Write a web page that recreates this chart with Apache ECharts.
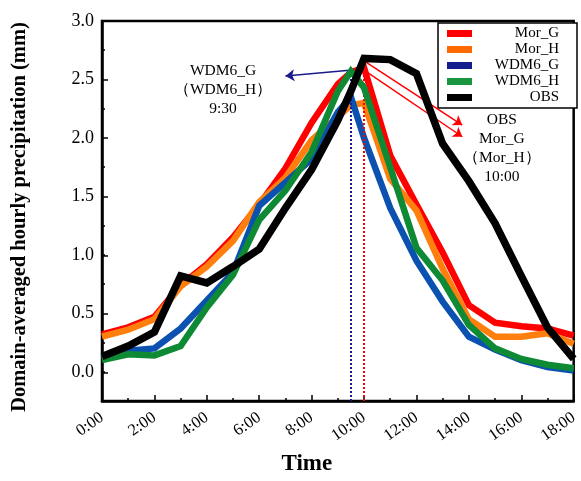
<!DOCTYPE html>
<html>
<head>
<meta charset="utf-8">
<script src="https://cdn.jsdelivr.net/npm/echarts@6/dist/echarts.min.js"></script>
<style>html,body{margin:0;padding:0;background:#fff;}#chart{width:581px;height:481px;}</style>
</head>
<body>
<div id="chart"></div>
<script>
// ---- data (hours, mm) ----
var times = [0, 1, 2, 3, 4, 5, 6, 7, 8, 9, 9.5, 10, 11, 12, 13, 14, 15, 16, 17, 18];
var seriesNames = ['Mor_G', 'Mor_H', 'WDM6_G', 'WDM6_H', 'OBS'];
var morG  = [0.32, 0.38, 0.47, 0.74, 0.92, 1.15, 1.43, 1.74, 2.13, 2.46, 2.56, 2.60, 1.85, 1.43, 1.02, 0.57, 0.42, 0.39, 0.37, 0.31];
var morH  = [0.30, 0.36, 0.45, 0.73, 0.90, 1.12, 1.45, 1.66, 1.98, 2.18, 2.28, 2.30, 1.65, 1.38, 0.88, 0.45, 0.30, 0.30, 0.33, 0.24];
var wdm6G = [0.12, 0.18, 0.20, 0.37, 0.61, 0.85, 1.42, 1.62, 1.82, 2.22, 2.35, 2.00, 1.40, 0.95, 0.60, 0.30, 0.19, 0.10, 0.04, 0.01];
var wdm6H = [0.10, 0.15, 0.14, 0.22, 0.55, 0.83, 1.30, 1.55, 1.88, 2.40, 2.57, 2.43, 1.75, 1.06, 0.78, 0.40, 0.20, 0.11, 0.06, 0.03];
var obs   = [0.13, 0.22, 0.34, 0.82, 0.76, 0.90, 1.05, 1.40, 1.73, 2.15, 2.40, 2.68, 2.67, 2.55, 1.95, 1.63, 1.27, 0.82, 0.38, 0.11];
var xTickHours = [0, 2, 4, 6, 8, 10, 12, 14, 16, 18];

// annotation anchors (data units)
var peakWdm = [9.5, 2.57];
var peakMor = [10, 2.60];
var blueArrow = [[9.55, 2.58], [7.0, 2.53]];
var redArrows = [[[10.0, 2.66], [13.75, 2.11]], [[10.0, 2.58], [13.75, 2.01]]];
var textWdm = {pos: [4.62, 2.41], lines: ['WDM6_G', '（WDM6_H）', '9:30']};
var textObs = {pos: [15.26, 1.91], lines: ['OBS', 'Mor_G', '（Mor_H）', '10:00']};
// ---------------------------

var lineColors = ['#ff0000', '#ff7f0e', '#0b52b0', '#0e8a34', '#000000'];
var legendColors = ['#ff0000', '#ff6a00', '#141e8c', '#1a9641', '#000000'];
var lineWidths = [6.5, 6.5, 6.5, 6.5, 7.5];
var vals = [morG, morH, wdm6G, wdm6H, obs];
var SERIF = '"Liberation Serif", "Times New Roman", serif';
var NAVY = '#1a1a8c';

function pairs(arr) { return times.map(function (t, i) { return [t, arr[i]]; }); }

var series = seriesNames.map(function (n, i) {
  return {
    name: n, type: 'line', xAxisIndex: 0, yAxisIndex: 0,
    data: pairs(vals[i]), showSymbol: false, symbol: 'none',
    lineStyle: {color: lineColors[i], width: lineWidths[i], join: 'miter'},
    itemStyle: {color: legendColors[i]},
    z: 2 + i, animation: false
  };
});

// annotations: dotted lines
series.push({
  name: 'annot1', type: 'line', data: [], xAxisIndex: 0, yAxisIndex: 0, z: 20, animation: false,
  markLine: {
    silent: true, symbol: ['none', 'none'], label: {show: false}, animation: false,
    data: [
      [{coord: [peakWdm[0], -0.25], lineStyle: {color: NAVY, type: 'dotted', width: 2}}, {coord: peakWdm}],
      [{coord: [peakMor[0], -0.25], lineStyle: {color: '#ff0000', type: 'dotted', width: 2}}, {coord: peakMor}]
    ]
  }
});
// arrows + texts
series.push({
  name: 'annot2', type: 'line', data: [], xAxisIndex: 0, yAxisIndex: 0, z: 21, animation: false,
  markLine: {
    silent: true, symbol: ['none', 'arrow'], symbolSize: 9, label: {show: false}, animation: false,
    data: [
      [{coord: blueArrow[0], lineStyle: {color: NAVY, type: 'solid', width: 1.5}}, {coord: blueArrow[1]}],
      [{coord: redArrows[0][0], lineStyle: {color: '#ff0000', type: 'solid', width: 1.5}}, {coord: redArrows[0][1]}],
      [{coord: redArrows[1][0], lineStyle: {color: '#ff0000', type: 'solid', width: 1.5}}, {coord: redArrows[1][1]}]
    ]
  },
  markPoint: {
    silent: true, symbol: 'circle', symbolSize: 1, itemStyle: {color: 'rgba(0,0,0,0)'}, animation: false,
    label: {show: true, position: 'inside', color: '#000', fontFamily: SERIF, fontSize: 15.5, lineHeight: 19, align: 'center', verticalAlign: 'middle'},
    data: [
      {coord: textWdm.pos, value: 0, label: {formatter: textWdm.lines.join('\n')}},
      {coord: textObs.pos, value: 0, label: {formatter: textObs.lines.join('\n')}}
    ]
  }
});

var G_TOP = 21, G_H = 381;
var option = {
  backgroundColor: '#fff',
  animation: false,
  grid: [
    {left: 102, right: 5, top: G_TOP, height: G_H, show: true, borderColor: '#000', borderWidth: 2.5, backgroundColor: 'transparent', containLabel: false},
    {left: 102, right: 5, top: G_TOP, height: G_H * 3 / 3.25, show: false}
  ],
  legend: {
    data: seriesNames.map(function (n, i) { return {name: n, itemStyle: {color: legendColors[i]}}; }),
    orient: 'vertical', right: 4, top: 23,
    icon: 'rect', itemWidth: 25, itemHeight: 7, itemGap: 1,
    borderColor: '#000', borderWidth: 1.5, padding: [3, 18, 3, 9],
    backgroundColor: '#fff',
    formatter: function (name) { return '{t|' + name + '}'; },
    textStyle: {
      fontFamily: SERIF, fontSize: 15, color: '#000', lineHeight: 15,
      rich: {t: {fontFamily: SERIF, fontSize: 15, color: '#000', width: 82, align: 'right', lineHeight: 15}}
    },
    selectedMode: false
  },
  xAxis: [
    {
      type: 'value', gridIndex: 0, min: 0, max: 18, interval: 2,
      axisLine: {show: true, onZero: false, lineStyle: {color: '#000', width: 2.5}},
      axisTick: {show: true, inside: true, length: 6, lineStyle: {color: '#000', width: 1.5}},
      minorTick: {show: true, splitNumber: 2, length: 3, lineStyle: {color: '#000', width: 1.5}},
      splitLine: {show: false},
      axisLabel: {
        rotate: 35, margin: 15, fontFamily: SERIF, fontSize: 16.5, color: '#000',
        formatter: function (v) { return xTickHours.indexOf(v) >= 0 ? v + ':00' : ''; }
      },
      name: 'Time', nameLocation: 'middle', nameGap: 52,
      nameTextStyle: {fontFamily: SERIF, fontSize: 23, fontWeight: 'bold', color: '#000', padding: [0, 62, 0, 0]}
    },
    {type: 'value', gridIndex: 1, min: 0, max: 18, show: false, axisLine: {show: false, onZero: false}, axisTick: {show: false}, axisLabel: {show: false}, splitLine: {show: false}}
  ],
  yAxis: [
    {
      type: 'value', gridIndex: 0, min: -0.25, max: 3, interval: 0.25,
      axisLine: {show: true, onZero: false, lineStyle: {color: '#000', width: 2.5}},
      axisTick: {show: true, inside: true, length: 3, lineStyle: {color: '#000', width: 1.5}},
      splitLine: {show: false},
      axisLabel: {
        margin: 8, fontFamily: SERIF, fontSize: 18, color: '#000',
        formatter: function (v) {
          var k = Math.round(v * 2);
          return (v >= -1e-9 && Math.abs(v * 2 - k) < 1e-6) ? (k / 2).toFixed(1) : '';
        }
      },
      name: 'Domain-averaged hourly precipitation (mm)', nameLocation: 'middle', nameGap: 72,
      nameTextStyle: {fontFamily: SERIF, fontSize: 20.5, fontWeight: 'bold', color: '#000', padding: [0, 12, 0, 0]}
    },
    {
      type: 'value', gridIndex: 1, min: 0, max: 3, interval: 0.5,
      axisLine: {show: false, onZero: false},
      axisTick: {show: true, inside: true, length: 6, lineStyle: {color: '#000', width: 1.5}},
      axisLabel: {show: false}, splitLine: {show: false}
    }
  ],
  series: series
};

var chart = echarts.init(document.getElementById('chart'), null, {renderer: 'canvas'});
chart.setOption(option);
</script>
</body>
</html>
